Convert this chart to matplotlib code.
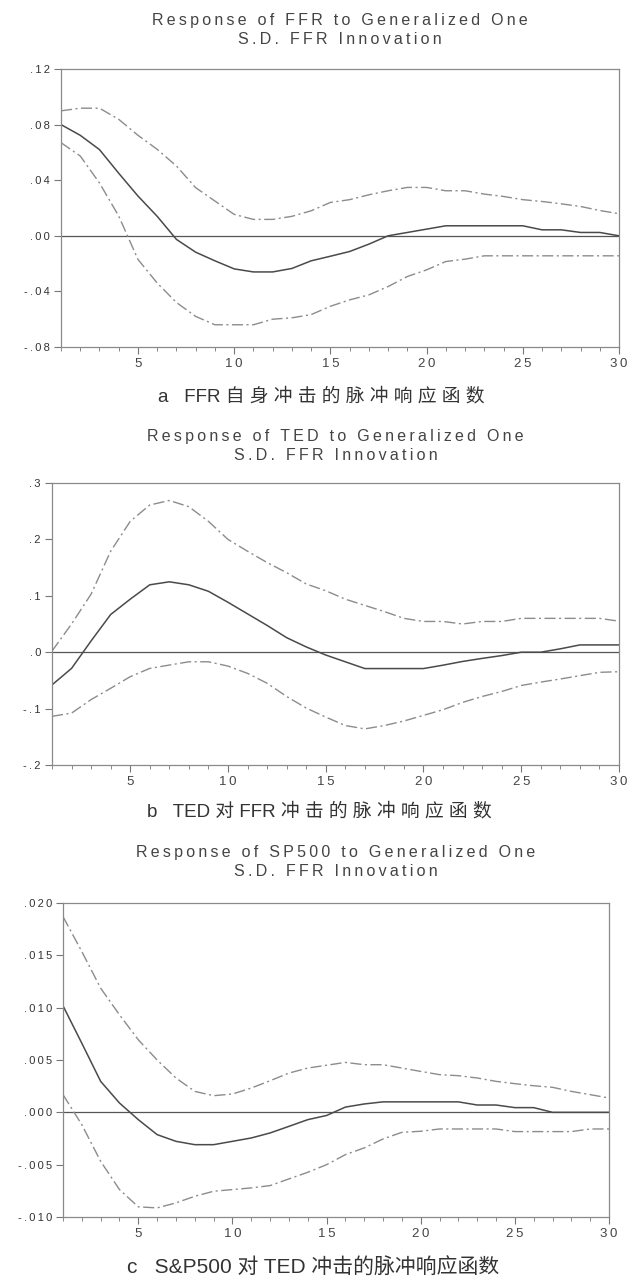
import numpy as np
import matplotlib.pyplot as plt

plt.rcParams['font.family'] = ['Liberation Sans', 'DejaVu Sans']

steps = np.arange(1, 31)

# FFR -> FFR
ffr_mid = [0.080, 0.0723, 0.062, 0.045, 0.0286, 0.014, -0.0026, -0.0118, -0.018, -0.0238,
           -0.026, -0.026, -0.0235, -0.018, -0.0147, -0.0113, -0.006, 0.0, 0.0024, 0.0048,
           0.0072, 0.0072, 0.0072, 0.0072, 0.0072, 0.0043, 0.0043, 0.0024, 0.0024, 0.0]
ffr_hi = [0.0899, 0.0918, 0.0918, 0.0838, 0.0723, 0.0622, 0.0502, 0.0346, 0.025, 0.0154,
          0.0118, 0.0118, 0.014, 0.018, 0.024, 0.026, 0.0295, 0.0324, 0.0348, 0.0348,
          0.0324, 0.0324, 0.030, 0.0283, 0.026, 0.0247, 0.023, 0.0211, 0.0182, 0.0159]
ffr_lo = [0.067, 0.0574, 0.038, 0.0142, -0.017, -0.034, -0.048, -0.058, -0.064, -0.064,
          -0.064, -0.060, -0.059, -0.0567, -0.0507, -0.0461, -0.0425, -0.0365, -0.0293, -0.0245,
          -0.0185, -0.0168, -0.0144, -0.0144, -0.0144, -0.0144, -0.0144, -0.0144, -0.0144, -0.0144]

# TED -> FFR
ted_mid = [-0.058, -0.0287, 0.020, 0.0668, 0.094, 0.1195, 0.1248, 0.1195, 0.108, 0.0885,
           0.068, 0.0475, 0.0258, 0.0094, -0.005, -0.017, -0.029, -0.029, -0.029, -0.029,
           -0.023, -0.0164, -0.011, -0.006, 0.0, 0.0, 0.006, 0.0129, 0.0129, 0.0129]
ted_hi = [0.002, 0.050, 0.103, 0.179, 0.232, 0.261, 0.269, 0.258, 0.232, 0.200,
          0.179, 0.159, 0.141, 0.121, 0.109, 0.094, 0.083, 0.072, 0.060, 0.0545,
          0.0545, 0.050, 0.0545, 0.0545, 0.060, 0.060, 0.060, 0.060, 0.060, 0.055]
ted_lo = [-0.1137, -0.108, -0.084, -0.064, -0.0434, -0.0287, -0.0228, -0.017, -0.017, -0.0246,
          -0.0375, -0.055, -0.0785, -0.099, -0.115, -0.130, -0.136, -0.130, -0.122, -0.112,
          -0.102, -0.089, -0.0785, -0.0697, -0.059, -0.053, -0.0475, -0.0416, -0.0357, -0.0346]

# SP500 -> FFR
sp_mid = [0.01018, 0.0066, 0.00296, 0.00089, -0.0007, -0.00213, -0.00277, -0.00309, -0.00309, -0.00277,
          -0.00245, -0.00197, -0.00134, -0.0007, -0.0003, 0.0005, 0.0008, 0.001, 0.001, 0.001,
          0.001, 0.001, 0.0007, 0.0007, 0.00045, 0.00045, 0.0, 0.0, 0.0, 0.0]
sp_hi = [0.0187, 0.01536, 0.01186, 0.00932, 0.00693, 0.0050, 0.00328, 0.0020, 0.00159, 0.00175,
         0.00232, 0.00302, 0.00375, 0.00423, 0.0045, 0.00477, 0.00455, 0.00455, 0.00423, 0.00391,
         0.0036, 0.0035, 0.00328, 0.00296, 0.00274, 0.00254, 0.00239, 0.0020, 0.00169, 0.00137]
sp_lo = [0.00169, -0.00118, -0.00468, -0.00738, -0.00903, -0.00913, -0.00865, -0.00802, -0.00754, -0.00738,
         -0.00722, -0.0070, -0.00636, -0.00573, -0.0050, -0.00404, -0.0034, -0.00254, -0.00191, -0.00181,
         -0.00159, -0.00159, -0.00159, -0.00159, -0.00184, -0.00184, -0.00184, -0.00184, -0.00159, -0.00159]

titles = ['Response of FFR to Generalized One\nS.D. FFR Innovation',
          'Response of TED to Generalized One\nS.D. FFR Innovation',
          'Response of SP500 to Generalized One\nS.D. FFR Innovation']
captions = ['a   FFR 自 身 冲 击 的 脉 冲 响 应 函 数',
            'b   TED 对 FFR 冲 击 的 脉 冲 响 应 函 数',
            'c   S&P500 对 TED 冲击的脉冲响应函数']
yticks = [[0.12, 0.08, 0.04, 0.0, -0.04, -0.08],
          [0.3, 0.2, 0.1, 0.0, -0.1, -0.2],
          [0.020, 0.015, 0.010, 0.005, 0.0, -0.005, -0.010]]
ylabels = [['.12', '.08', '.04', '.00', '-.04', '-.08'],
           ['.3', '.2', '.1', '.0', '-.1', '-.2'],
           ['.020', '.015', '.010', '.005', '.000', '-.005', '-.010']]
xlabels = ['5', '10', '15', '20', '25', '30']


def spaced(s):
    return '\u2009'.join(s)


W, H = 627, 1278
fig = plt.figure(figsize=(W / 100, H / 100), dpi=100)

# axes boxes in pixels: left, right, top, bottom
boxes = [(61, 619, 69, 347), (52, 619, 483, 765), (63, 609, 903, 1217)]
title_y = [20, 437, 853]
cap_pos = [(321, 397), (319, 812), (313, 1268)]
cap_size = [13.5, 13.5, 15]
series = [(ffr_mid, ffr_hi, ffr_lo), (ted_mid, ted_hi, ted_lo), (sp_mid, sp_hi, sp_lo)]

band = (0, (8, 2.5, 1.5, 2.5))
for i in range(3):
    l, r, t, b = boxes[i]
    ax = fig.add_axes([l / W, 1 - b / H, (r - l) / W, (b - t) / H])
    mid, hi, lo = series[i]
    ax.axhline(0, color='#555555', lw=0.9)
    ax.plot(steps, hi, color='#8c8c8c', lw=1.0, linestyle=band)
    ax.plot(steps, lo, color='#8c8c8c', lw=1.0, linestyle=band)
    ax.plot(steps, mid, color='#4a4a4a', lw=1.1)
    ax.set_xlim(1, 30)
    ax.set_ylim(yticks[i][-1], yticks[i][0])
    ax.set_yticks(yticks[i])
    ax.set_yticklabels([spaced(s) for s in ylabels[i]], fontsize=8, color='#333333')
    ax.set_xticks([5, 10, 15, 20, 25, 30])
    ax.set_xticklabels([spaced(s) for s in xlabels], fontsize=9.5, color='#444444')
    ax.set_xticks(steps, minor=True)
    ax.tick_params(axis='both', which='major', direction='out', length=5, width=0.8,
                   color='#777777', pad=3)
    ax.tick_params(axis='x', which='minor', direction='out', length=3, width=0.7,
                   color='#888888')
    for sp in ax.spines.values():
        sp.set_color('#8a8a8a')
        sp.set_linewidth(0.9)

    cx = (l + r) / 2
    lines = titles[i].split('\n')
    for k, line in enumerate(lines):
        fig.text(cx / W, 1 - (title_y[i] + 19 * k) / H, spaced(line),
                 ha='center', va='center', fontsize=11.5, color='#444444')

    fig.text(cap_pos[i][0] / W, 1 - cap_pos[i][1] / H, captions[i],
             ha='center', va='center', fontsize=cap_size[i], color='#333333',
             family=['Liberation Sans', 'Noto Sans CJK SC'])

fig.savefig('out.png', dpi=100)
